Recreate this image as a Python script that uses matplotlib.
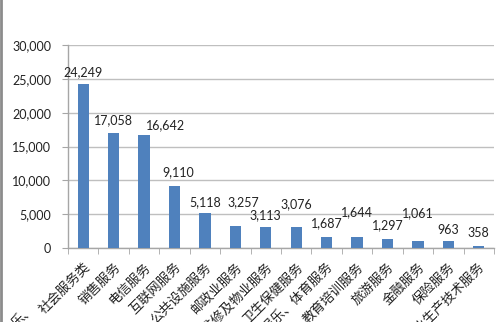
import matplotlib
matplotlib.use('Agg')
import matplotlib.pyplot as plt
import numpy as np
from matplotlib.ticker import FuncFormatter
from matplotlib.lines import Line2D

plt.rcParams['font.family'] = ['Noto Sans CJK SC', 'DejaVu Sans']

# service categories and complaint counts
categories = ['社会服务类', '销售服务', '电信服务', '互联网服务', '公共设施服务',
              '邮政业服务', '房屋维修及物业服务', '卫生保健服务', '文化娱乐、体育服务',
              '教育培训服务', '旅游服务', '金融服务', '保险服务', '农业生产技术服务']
counts = [24249, 17058, 16642, 9110, 5118, 3257, 3113, 3076, 1687, 1644, 1297, 1061, 963, 358]

# data label nudges (pixels) relative to bar top
label_dx = [0, 0, 21, 4, 0, 8, 0, 0, 0, 0, 0, 0, 0, 0]
label_dy = [12, 12, 10, 14, 11, 24, 12, 23, 13, 25, 14, 28, 11, 13]

fig = plt.figure(figsize=(5, 3.22), dpi=100)
ax = fig.add_axes([0.136, 0.230, 0.852, 0.630])

x = np.arange(len(categories))
ax.bar(x, counts, width=0.37, color='#4F81BD', zorder=3)

ax.set_xlim(-0.5, len(categories) - 0.5)
ax.set_ylim(0, 30000)
ax.set_yticks(range(0, 30001, 5000))
ax.yaxis.set_major_formatter(FuncFormatter(lambda v, p: f'{int(v):,}'))
ax.grid(axis='y', color='#BFBFBF', linewidth=1.0, zorder=0)

for s in ['top', 'right']:
    ax.spines[s].set_visible(False)
for s in ['left', 'bottom']:
    ax.spines[s].set_color('#A6A6A6')
    ax.spines[s].set_linewidth(1.0)

ax.tick_params(axis='y', length=4, color='#A6A6A6', labelsize=9, pad=8,
               labelcolor='#222222')
ax.set_yticklabels(ax.get_yticklabels(), family=['Lato', 'DejaVu Sans'])

# category labels centred on bars, ticks between them
ax.set_xticks(x)
ax.set_xticklabels(categories, rotation=45, ha='right', va='top',
                   rotation_mode='anchor', fontsize=9.5, color='#222222')
ax.tick_params(axis='x', length=0, pad=9)
ax.set_xticks(np.arange(-0.5, len(categories), 1.0), minor=True)
ax.tick_params(axis='x', which='minor', length=4, color='#A6A6A6')

for xi, v, dx, dy in zip(x, counts, label_dx, label_dy):
    ax.annotate(f'{v:,}', (xi, v), xytext=(dx, dy), textcoords='offset pixels',
                ha='center', va='center', fontsize=9, color='#222222',
                family=['Lato', 'DejaVu Sans'], zorder=4)

# chart frame edge on the left
fig.add_artist(Line2D([0.002, 0.002], [0, 1], transform=fig.transFigure,
                      color='#8C8C8C', linewidth=2))
fig.text(0.075, -0.025, '乐、', rotation=45, ha='right', va='bottom',
         fontsize=9.5, color='#222222')

fig.savefig('out.png', dpi=100)
